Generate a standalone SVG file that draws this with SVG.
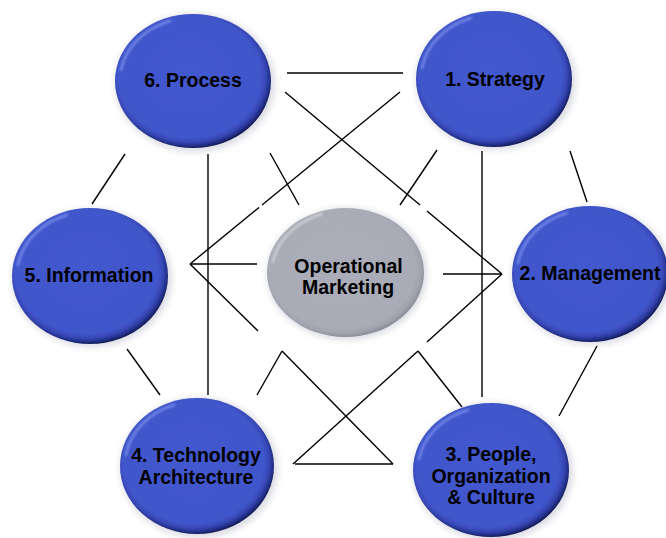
<svg xmlns="http://www.w3.org/2000/svg" width="666" height="538" viewBox="0 0 666 538">
  <defs>
    <style>
      .link { stroke: #000; stroke-width: 1.4; fill: none; stroke-linecap: butt; }
      .label { font-family: "Liberation Sans", Arial, sans-serif; font-weight: bold; font-size: 19.5px; fill: #000; text-anchor: middle; }
      .halo { fill: #8a8fa8; opacity: 0.3; filter: url(#soft); }
      .blue { fill: url(#blueBody); }
      .grey { fill: url(#greyBody); }
      .shine { fill: none; stroke-width: 2.5; stroke-linecap: round; filter: url(#blur1); }
      .shine-b { stroke: #9fb0ff; opacity: 0.55; }
      .shine-g { stroke: #e4e5ea; opacity: 0.6; }
    </style>
    <filter id="soft" x="-20%" y="-20%" width="140%" height="140%">
      <feGaussianBlur stdDeviation="3"/>
    </filter>
    <filter id="blur1" x="-10%" y="-10%" width="120%" height="120%">
      <feGaussianBlur stdDeviation="0.8"/>
    </filter>
    <filter id="edge" x="-5%" y="-5%" width="110%" height="110%">
      <feGaussianBlur stdDeviation="0.6"/>
    </filter>
    <!-- bevelled button body: flat face, thin dark rim heavier toward bottom-right -->
    <radialGradient id="blueBody" cx="0.48" cy="0.47" r="0.53" fx="0.46" fy="0.44">
      <stop offset="0" stop-color="#4358ce"/>
      <stop offset="0.86" stop-color="#4156cb"/>
      <stop offset="0.92" stop-color="#3849b8"/>
      <stop offset="0.97" stop-color="#23308a"/>
      <stop offset="1" stop-color="#161d5a"/>
    </radialGradient>
    <radialGradient id="greyBody" cx="0.48" cy="0.47" r="0.53" fx="0.46" fy="0.44">
      <stop offset="0" stop-color="#abadb8"/>
      <stop offset="0.88" stop-color="#a9abb6"/>
      <stop offset="0.95" stop-color="#a0a2ad"/>
      <stop offset="1" stop-color="#8d8f99"/>
    </radialGradient>
  </defs>

  <rect width="666" height="538" fill="#fff"/>

  <g id="connectors">
    <line class="link" x1="287" y1="73" x2="403" y2="73"/>
    <line class="link" x1="285" y1="92" x2="420" y2="205"/>
    <line class="link" x1="427" y1="211" x2="502" y2="274"/>
    <line class="link" x1="400" y1="92" x2="262" y2="205"/>
    <line class="link" x1="259" y1="207.5" x2="190" y2="264"/>
    <line class="link" x1="190" y1="264" x2="257" y2="264"/>
    <line class="link" x1="190" y1="264" x2="258" y2="331"/>
    <line class="link" x1="282" y1="351" x2="393" y2="464"/>
    <line class="link" x1="443" y1="274" x2="502" y2="274"/>
    <line class="link" x1="502" y1="274" x2="427" y2="342"/>
    <line class="link" x1="418" y1="351" x2="293" y2="464"/>
    <line class="link" x1="295" y1="464" x2="393" y2="464"/>
    <line class="link" x1="208" y1="154" x2="208" y2="395"/>
    <line class="link" x1="482" y1="151" x2="482" y2="397"/>
    <line class="link" x1="125" y1="154" x2="92" y2="204"/>
    <line class="link" x1="127" y1="349" x2="160" y2="395"/>
    <line class="link" x1="570" y1="151" x2="587" y2="202"/>
    <line class="link" x1="597" y1="346" x2="559" y2="416"/>
    <line class="link" x1="270" y1="153" x2="299" y2="205"/>
    <line class="link" x1="437" y1="150" x2="400" y2="205"/>
    <line class="link" x1="257" y1="395" x2="282" y2="351"/>
    <line class="link" x1="462" y1="407" x2="418" y2="351"/>
  </g>

  <g id="node-process">
    <ellipse class="halo" cx="195" cy="83" rx="80" ry="69"/>
    <ellipse class="blue" cx="193" cy="81" rx="78" ry="67" filter="url(#edge)"/>
    <path class="shine shine-b" d="M121,70 A74,63 0 0 1 170,21"/>
    <text class="label" x="193" y="87">6. Process</text>
  </g>

  <g id="node-strategy">
    <ellipse class="halo" cx="496" cy="81" rx="80" ry="69"/>
    <ellipse class="blue" cx="494" cy="79" rx="78" ry="68" filter="url(#edge)"/>
    <path class="shine shine-b" d="M422,68 A74,64 0 0 1 471,18"/>
    <text class="label" x="495" y="86">1. Strategy</text>
  </g>

  <g id="node-information">
    <ellipse class="halo" cx="92" cy="278" rx="80" ry="69"/>
    <ellipse class="blue" cx="90" cy="276" rx="78" ry="68" filter="url(#edge)"/>
    <path class="shine shine-b" d="M18,265 A74,64 0 0 1 67,215"/>
    <text class="label" x="89" y="282">5. Information</text>
  </g>

  <g id="node-management">
    <ellipse class="halo" cx="592" cy="276" rx="80" ry="69"/>
    <ellipse class="blue" cx="590" cy="274" rx="78" ry="68" filter="url(#edge)"/>
    <path class="shine shine-b" d="M518,263 A74,64 0 0 1 567,213"/>
    <text class="label" x="590" y="280">2. Management</text>
  </g>

  <g id="node-technology">
    <ellipse class="halo" cx="199" cy="468" rx="79" ry="70"/>
    <ellipse class="blue" cx="197" cy="466" rx="77" ry="68" filter="url(#edge)"/>
    <path class="shine shine-b" d="M126,455 A73,64 0 0 1 174,405"/>
    <text class="label" x="196" y="462">4. Technology</text>
    <text class="label" x="196" y="484">Architecture</text>
  </g>

  <g id="node-people">
    <ellipse class="halo" cx="493" cy="472" rx="80" ry="69"/>
    <ellipse class="blue" cx="491" cy="470" rx="78" ry="67" filter="url(#edge)"/>
    <path class="shine shine-b" d="M419,459 A74,63 0 0 1 468,410"/>
    <text class="label" x="491" y="461">3. People,</text>
    <text class="label" x="491" y="483">Organization</text>
    <text class="label" x="491" y="504">&amp; Culture</text>
  </g>

  <g id="node-operational-marketing">
    <ellipse class="halo" cx="347" cy="274" rx="80" ry="66"/>
    <ellipse class="grey" cx="345.5" cy="272.5" rx="78.5" ry="64.5" filter="url(#edge)"/>
    <path class="shine shine-g" d="M273,262 A75,61 0 0 1 322,214"/>
    <text class="label" x="348.5" y="273">Operational</text>
    <text class="label" x="348" y="294">Marketing</text>
  </g>
</svg>
